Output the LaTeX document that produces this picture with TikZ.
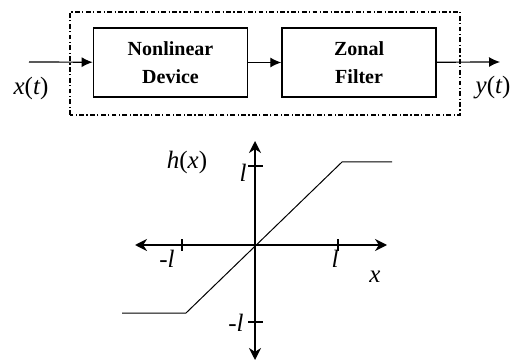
\documentclass[tikz,border=0pt]{standalone}
\usepackage{fontspec}
\setmainfont{Liberation Serif}
\usetikzlibrary{arrows.meta,positioning}

\begin{document}
\begin{tikzpicture}[x=0.5pt, y=0.5pt, every node/.style={font=\fontsize{10}{14}\selectfont},
    blk/.style={draw, line width=0.8pt, minimum width=77pt, minimum height=34.5pt, align=center, inner sep=0pt, font=\fontsize{10}{14}\selectfont\bfseries},
    sig/.style={line width=0.6pt, -{Latex[length=5.5pt, width=5pt]}},
    ax/.style={line width=1pt, {Stealth[length=6pt, width=6pt]}-{Stealth[length=6pt, width=6pt]}},
    lbl/.style={font=\fontsize{12.5}{14}\selectfont\itshape}]
    \useasboundingbox (0,0) rectangle (517,363);
    % block chain
    \node[blk] (nld) at (170.5,300.5) {Nonlinear\\Device};
    \node[blk, right=16.5pt of nld] (zf) {Zonal\\Filter};
    \draw[line width=0.6pt, dash pattern=on 2.4pt off 1.2pt on 0.6pt off 1.2pt] (70,248) rectangle (460,351);
    \coordinate (xin) at (29,301);
    \coordinate (yout) at (500,301);
    \draw[sig] (xin) -- (nld);
    \draw[sig] (nld) -- (zf);
    \draw[sig] (zf) -- (yout);
    \node[lbl] (xt) at (31,275) {x\upshape(\itshape t\upshape)};
    \node[lbl] (yt) at (493,275) {y\upshape(\itshape t\upshape)};
    % transfer curve
    \coordinate (o) at (255,118);
    \draw[ax] (135,118) -- (387,118);
    \draw[ax] (255,3) -- (255,222);
    \foreach \tx in {182,338}
      \draw[line width=0.6pt] (\tx,112) -- (\tx,124);
    \foreach \ty in {41,197}
      \draw[line width=0.6pt] (248,\ty) -- (263,\ty);
    \draw[line width=0.5pt] (122,50) -- (186,50) -- (342,201) -- (392,201);
    \node[lbl] (hx) at (187,201) {h\upshape(\itshape x\upshape)};
    \node[lbl] (lv) at (243,190) {l};
    \node[lbl] (mlv) at (236,40) {\upshape-\itshape l};
    \node[lbl] (mlh) at (167,104) {\upshape-\itshape l};
    \node[lbl] (lh) at (335,104) {l};
    \node[lbl] (xa) at (375,86) {x};
\end{tikzpicture}
\end{document}
